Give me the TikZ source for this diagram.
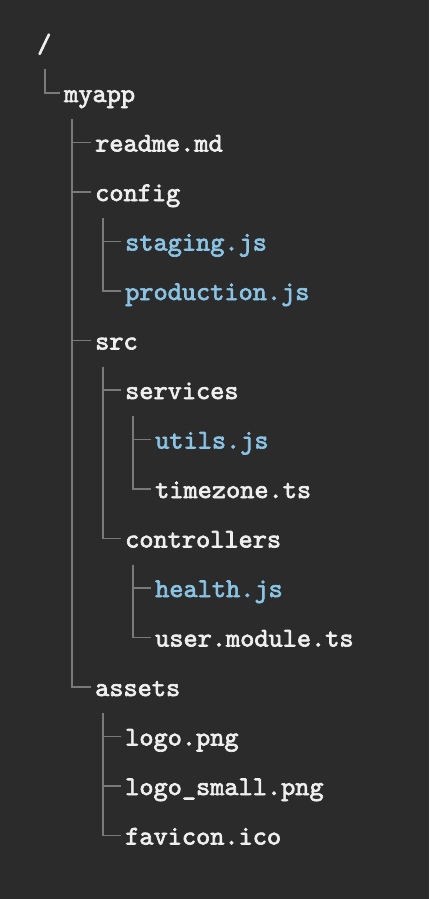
\documentclass[tikz,border=0pt]{standalone}
\font\treefont="[lmmono10-regular]:embolden=2.5" at 27pt
\definecolor{bgcol}{HTML}{2B2B2B}
\definecolor{textcol}{HTML}{EFEFEF}
\definecolor{jscol}{HTML}{8AC3E4}
\definecolor{linecol}{HTML}{7A7A7A}

\begin{document}
\begin{tikzpicture}[x=1pt,y=1pt,
        entry/.style={anchor=base west,inner sep=0pt,text=textcol,font=\treefont},
        jsfile/.style={entry,text=jscol},
        branch/.style={draw=linecol,line width=1.3pt}]
        \fill[bgcol] (0,0) rectangle (429,-899);
        \useasboundingbox (0,0) rectangle (429,-899);

        \node[entry] (root) at (37,-52.5) {/};
        \node[entry] (myapp) at (64,-102) {myapp};
        \node[entry] (readme) at (95,-151.5) {readme.md};
        \node[entry] (config) at (95,-201) {config};
        \node[jsfile] (staging) at (125,-250.5) {staging.js};
        \node[jsfile] (production) at (125,-300) {production.js};
        \node[entry] (src) at (95,-349.5) {src};
        \node[entry] (services) at (125,-399) {services};
        \node[jsfile] (utils) at (155,-448.5) {utils.js};
        \node[entry] (timezone) at (155,-498) {timezone.ts};
        \node[entry] (controllers) at (125,-547.5) {controllers};
        \node[jsfile] (health) at (155,-597) {health.js};
        \node[entry] (usermodule) at (155,-646.5) {user.module.ts};
        \node[entry] (assets) at (95,-696) {assets};
        \node[entry] (logo) at (125,-745.5) {logo.png};
        \node[entry] (logosmall) at (125,-795) {logo\_small.png};
        \node[entry] (favicon) at (125,-844.5) {favicon.ico};

        \foreach \parent/\child in {root/myapp,
                myapp/readme,myapp/config,myapp/src,myapp/assets,
                config/staging,config/production,
                src/services,src/controllers,
                services/utils,services/timezone,
                controllers/health,controllers/usermodule,
                assets/logo,assets/logosmall,assets/favicon}
            \draw[branch] ([xshift=8pt,yshift=-17pt]\parent.base west) |- ([xshift=-4pt,yshift=9pt]\child.base west);
      \end{tikzpicture}
\end{document}
